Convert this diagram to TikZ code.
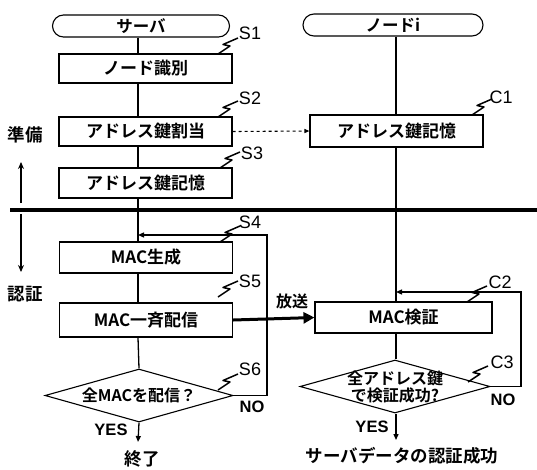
\documentclass[tikz,border=0pt]{standalone}
\usepackage{fontspec}
\IfFontExistsTF{Noto Sans CJK JP Bold}
  {\newfontfamily\jp{Noto Sans CJK JP Bold}}
  {\newfontfamily\jp[FakeBold=2]{Noto Sans CJK JP}}
\newfontfamily\lat{Liberation Sans}
\newfontfamily\latb{Liberation Sans Bold}
\usetikzlibrary{shapes.geometric,arrows.meta}
\tikzset{
  term/.style={draw,line width=1.1pt,rounded corners=11pt,minimum width=#1,minimum height=22pt,inner sep=0pt,font=\jp\fontsize{16.5}{18}\selectfont},
  stepbox/.style={draw,line width=1.1pt,fill=white,minimum width=173pt,minimum height=#1,inner sep=0pt,font=\jp\fontsize{17}{19}\selectfont},
  dia/.style={draw,diamond,line width=1.1pt,minimum width=#1,minimum height=53pt,inner sep=0pt},
  dtext/.style={font=\jp\fontsize{16}{17}\selectfont,inner sep=0pt},
  flow/.style={line width=1.3pt},
  tag/.style={font=\lat\fontsize{18}{18}\selectfont,inner sep=0pt},
  big/.style={font=\jp\fontsize{17.5}{19}\selectfont,inner sep=0pt},
  yn/.style={font=\latb\fontsize{16.5}{16}\selectfont,inner sep=0pt},
  tip/.style={-{Triangle[length=6pt,width=5pt]}},
}
\newcommand{\squig}[1]{\draw[line width=1.5pt,line join=round] #1 -- ++(12,-8) -- ++(-7,-1.5) -- ++(15,-6.5);}
\begin{document}
\begin{tikzpicture}[x=1pt,y=-1pt]
\useasboundingbox (0,0) rectangle (537,469);
% columns
\coordinate (cs) at (138,0);
\coordinate (cn) at (396,0);
% terminals
\node[term=177pt] (srv) at (141,26) {サーバ};
\node[term=180pt] (nod) at (393,25) {ノードi};
% server boxes
\node[stepbox=29pt] (s1) at (145.5,68.5) {ノード識別};
\node[stepbox=29pt] (s2) at (145.5,131.5) {アドレス鍵割当};
\node[stepbox=30pt] (s3) at (145.5,183) {アドレス鍵記憶};
\node[stepbox=31pt] (s4) at (146,257.5) {MAC生成};
\node[stepbox=34pt] (s5) at (146,320) {MAC一斉配信};
\node[dia=188pt] (d6) at (139,395.5) {};
\node[dtext] at (d6.center) {全MACを配信？};
% node boxes
\node[stepbox=32pt] (c1) at (396.5,131) {アドレス鍵記憶};
\node[stepbox=31pt,minimum width=177pt] (c2) at (403.5,317.5) {MAC検証};
\node[dia=190pt] (d3) at (395,386.5) {};
\node[dtext,align=center] at (d3.center) {全アドレス鍵\\[0pt]で検証成功?};
% separator
\coordinate (sepl) at (10,210);
\coordinate (sepr) at (537,210);
\draw[line width=3.8pt] (sepl) -- (sepr);
% server flow
\draw[flow] (srv.south -| cs) -- (s1.north -| cs);
\draw[flow] (s1.south -| cs) -- (s2.north -| cs);
\draw[flow] (s2.south -| cs) -- (s3.north -| cs);
\draw[flow] (s3.south -| cs) -- (s4.north -| cs);
\draw[flow] (s4.south -| cs) -- (s5.north -| cs);
\draw[flow] (s5.south -| cs) -- (d6.north);
\coordinate (l6) at (267,235);
\draw[flow,tip] (d6.east) -| (l6) -- (l6 -| cs);
\coordinate (end1) at (138,442);
\draw[flow,tip] (d6.south) -- (end1);
\node[yn] (yes1) at (111,430) {YES};
\node[yn] (no1) at (252,407) {NO};
\node[big] (fin1) at (142,459) {終了};
% node flow
\draw[flow] (nod.south -| cn) -- (c1.north -| cn);
\draw[flow] (c1.south -| cn) -- (c2.north -| cn);
\draw[flow] (c2.south -| cn) -- (d3.north -| cn);
\coordinate (l3) at (521,292);
\draw[flow,tip] (d3.east) -| (l3) -- (l3 -| cn);
\coordinate (end2) at (396,440);
\draw[flow,tip] (d3.south -| cn) -- (end2);
\node[yn] (yes2) at (372,427) {YES};
\node[yn] (no2) at (503,400) {NO};
\node[big] (fin2) at (402,456) {サーバデータの認証成功};
% cross arrows
\draw[line width=1.1pt,dashed,-{Triangle[length=5pt,width=4pt]}] (s2.east) -- (c1.west);
\draw[line width=3pt,-{Triangle[length=11pt,width=11pt]}] (s5.east) -- (c2.west);
\node[big,font=\jp\fontsize{16}{17}\selectfont] (bc) at (292,301) {放送};
% phase labels
\node[big] (prep) at (25,135) {準備};
\node[big] (auth) at (25,294) {認証};
\coordinate (pa1) at (21,203);
\coordinate (pa2) at (21,162);
\coordinate (pa3) at (21,214);
\coordinate (pa4) at (21,272);
\draw[line width=1.3pt,-{Stealth[length=7pt,width=6pt]}] (pa1) -- (pa2);
\draw[line width=1.3pt,-{Stealth[length=7pt,width=6pt]}] (pa3) -- (pa4);
% step tags
\squig{(218,54)} \node[tag] (t1) at (250,33) {S1};
\squig{(218,117)} \node[tag] (t2) at (250,98) {S2};
\squig{(220,168)} \node[tag] (t3) at (252,153) {S3};
\squig{(220,242)} \node[tag] (t4) at (250,222) {S4};
\squig{(218,297)} \node[tag] (t5) at (250,281) {S5};
\squig{(218,390)} \node[tag] (t6) at (250,369) {S6};
\squig{(472,115)} \node[tag] (u1) at (501,97) {C1};
\squig{(467,302)} \node[tag] (u2) at (500,282) {C2};
\squig{(468,382)} \node[tag] (u3) at (502,362) {C3};
\end{tikzpicture}
\end{document}
